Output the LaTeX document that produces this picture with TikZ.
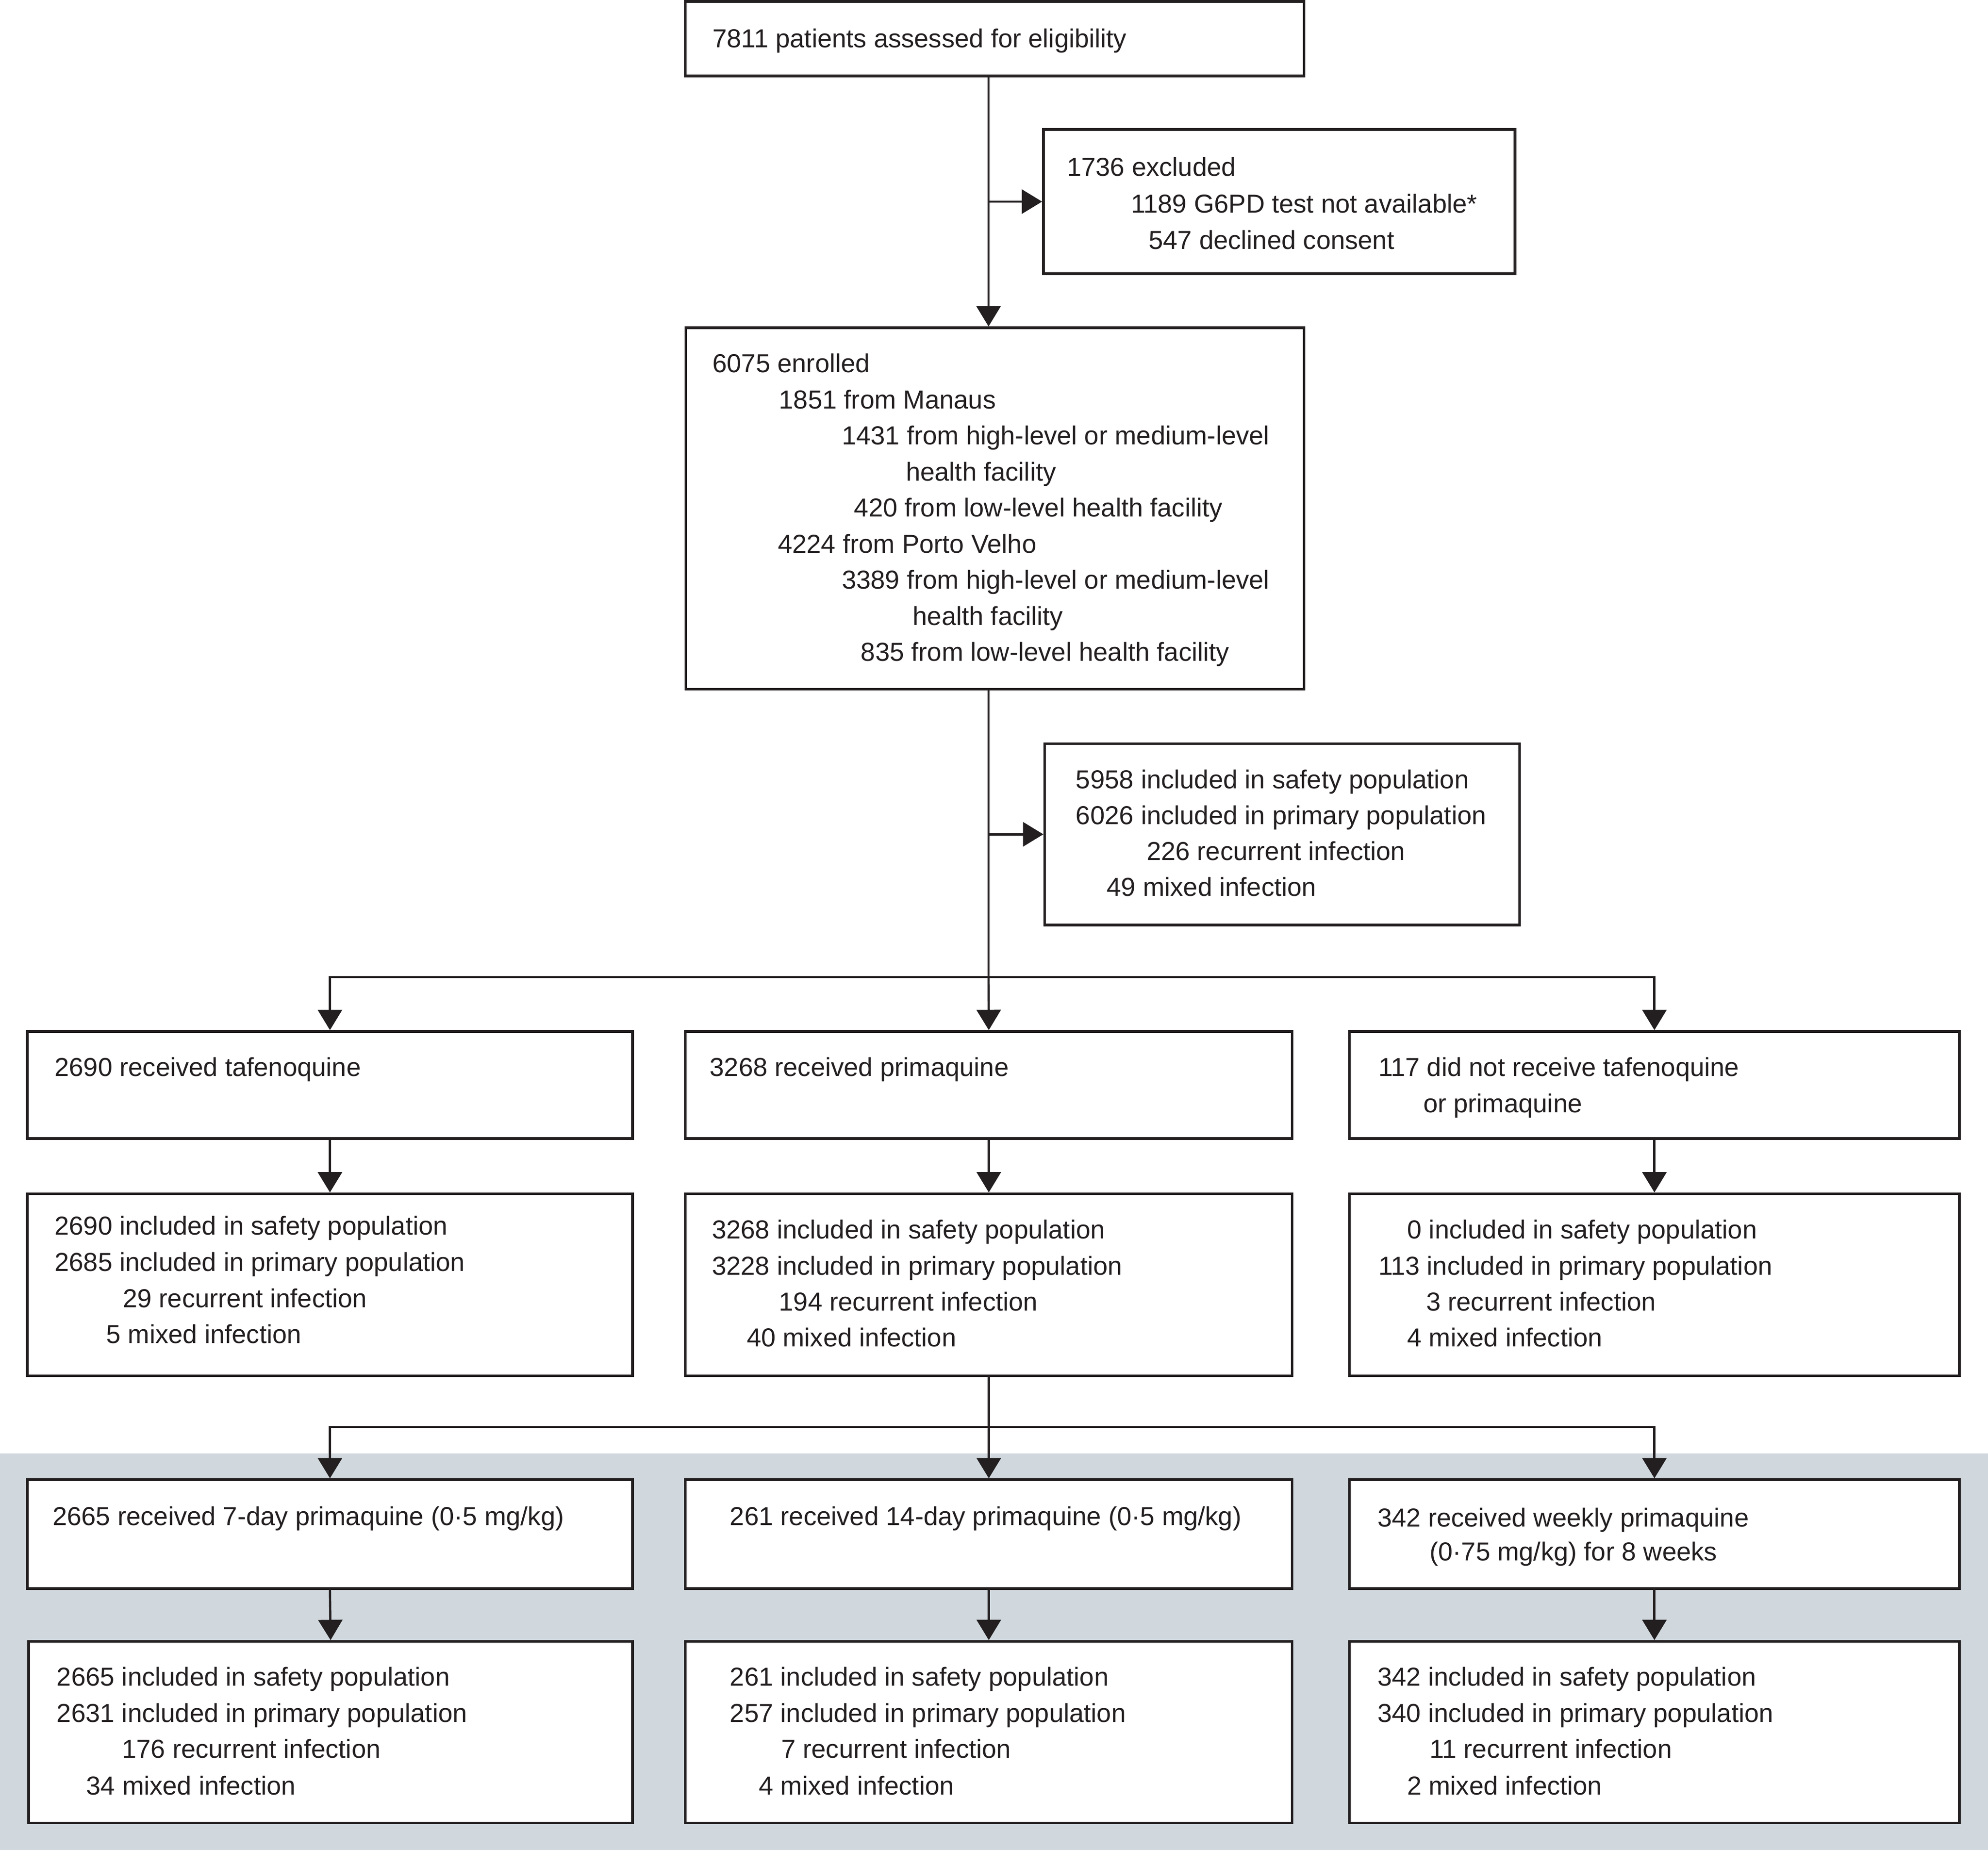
\documentclass[tikz,border=0pt]{standalone}
\usepackage{fontspec}
\setmainfont{Liberation Sans}
\usetikzlibrary{arrows.meta}
\definecolor{ink}{RGB}{35,31,32}
\definecolor{bandgray}{RGB}{208,216,222}
\newcommand\mkbox[5]{\node[flowbox, minimum width={(#4-#2)*0.01cm}, minimum height={(#5-#3)*0.01cm}] (#1) at ({(#2+#4)/2},{(#3+#5)/2}) {};}
\newcommand\txtline[4]{\node[txt] (#1) at (#2,#3) {#4};}
\begin{document}
\begin{tikzpicture}[x=0.01cm,y=-0.01cm,
  flowbox/.style={draw=ink, fill=white, line width=0.6pt, inner sep=0pt},
  txt/.style={anchor=base west, inner sep=0pt, outer sep=0pt, text=ink, font=\fontsize{5.83pt}{7pt}\selectfont},
  conn/.style={draw=ink, line width=0.5pt},
  arr/.style={conn, -{Triangle[length=1.6mm,width=1.9mm]}}]
\useasboundingbox (0,0) rectangle (1568,1459);
\fill[bandgray] (0,1146.3) rectangle (1568,1459);
% boxes
\mkbox{top}{540.5}{1.2}{1028.5}{59.8}
\mkbox{excl}{823}{102}{1195}{216}
\mkbox{enrol}{541}{258.5}{1028.5}{543.5}
\mkbox{safety}{824}{586.5}{1198.5}{729.5}
\mkbox{rfl}{21.5}{813.5}{499}{898}
\mkbox{rfm}{540.6}{813.5}{1019.2}{898}
\mkbox{rfr}{1064.3}{813.5}{1545.5}{898}
\mkbox{rsl}{21.5}{941.5}{499}{1085}
\mkbox{rsm}{540.6}{941.5}{1019.2}{1085}
\mkbox{rsr}{1064.3}{941.5}{1545.5}{1085}
\mkbox{rtl}{21.5}{1167}{499}{1253}
\mkbox{rtm}{540.6}{1167}{1019.2}{1253}
\mkbox{rtr}{1064.3}{1167}{1545.5}{1253}
\mkbox{rul}{22.5}{1294.6}{499}{1437.8}
\mkbox{rum}{540.6}{1294.6}{1019.2}{1437.8}
\mkbox{rur}{1064.3}{1294.6}{1545.5}{1437.8}
% connectors
\coordinate (trunk) at (779.7,0);
\coordinate (sa) at (779.7,770.6);
\coordinate (sb) at (779.7,1125.6);
\draw[arr] (top.south -| trunk) -- (enrol.north -| trunk);
\draw[arr] (excl.west -| trunk) -- (excl.west);
\draw[conn] (enrol.south -| trunk) -- (sa);
\draw[arr] (safety.west -| trunk) -- (safety.west);
\draw[arr] (sa) -| (rfl.north);
\draw[arr] (sa) -| (rfr.north);
\draw[arr] (sa) -- (rfm.north);
\draw[arr] (rfl.south) -- (rsl.north);
\draw[arr] (rfm.south) -- (rsm.north);
\draw[arr] (rfr.south) -- (rsr.north);
\draw[conn] (rsm.south) -- (rsm.south |- sb);
\draw[arr] (rsm.south |- sb) -| (rtl.north);
\draw[arr] (rsm.south |- sb) -| (rtr.north);
\draw[arr] (rsm.south |- sb) -- (rtm.north);
\draw[arr] (rtl.south) -- (rul.north);
\draw[arr] (rtm.south) -- (rum.north);
\draw[arr] (rtr.south) -- (rur.north);
% texts
\txtline{ta}{562}{37.5}{7811 patients assessed for eligibility}
\txtline{ea}{841.5}{139}{1736 excluded}
\txtline{eb}{892}{167.8}{1189 G6PD test not available*}
\txtline{ec}{906}{196.5}{547 declined consent}
\txtline{na}{562}{293.7}{6075 enrolled}
\txtline{nb}{614.5}{322.2}{1851 from Manaus}
\txtline{nc}{664}{350.6}{1431 from high-level or medium-level}
\txtline{nd}{714.5}{379.1}{health facility}
\txtline{ne}{673.7}{407.6}{420 from low-level health facility}
\txtline{nf}{613.5}{436.0}{4224 from Porto Velho}
\txtline{ng}{664}{464.5}{3389 from high-level or medium-level}
\txtline{nh}{720}{493.0}{health facility}
\txtline{ni}{679}{521.5}{835 from low-level health facility}
\txtline{sa1}{848.6}{622}{5958 included in safety population}
\txtline{sa2}{848.6}{650.3}{6026 included in primary population}
\txtline{sa3}{904.4}{678.5}{226 recurrent infection}
\txtline{sa4}{873}{706.8}{49 mixed infection}
\txtline{fl1}{43.1}{848.8}{2690 received tafenoquine}
\txtline{fm1}{559.8}{848.8}{3268 received primaquine}
\txtline{fr1}{1087.2}{848.8}{117 did not receive tafenoquine}
\txtline{fr2}{1122.6}{877.5}{or primaquine}
\txtline{sl1}{43.1}{974}{2690 included in safety population}
\txtline{sl2}{43.1}{1002.4}{2685 included in primary population}
\txtline{sl3}{96.9}{1031}{29 recurrent infection}
\txtline{sl4}{83.9}{1059.3}{5 mixed infection}
\txtline{sm1}{561.5}{977}{3268 included in safety population}
\txtline{sm2}{561.5}{1005.6}{3228 included in primary population}
\txtline{sm3}{614.5}{1033.7}{194 recurrent infection}
\txtline{sm4}{589}{1062}{40 mixed infection}
\txtline{sr1}{1110}{977}{0 included in safety population}
\txtline{sr2}{1087.2}{1005.6}{113 included in primary population}
\txtline{sr3}{1124.9}{1033.7}{3 recurrent infection}
\txtline{sr4}{1110}{1062}{4 mixed infection}
\txtline{tl1}{41.5}{1203}{2665 received 7-day primaquine (0·5 mg/kg)}
\txtline{tm1}{575.8}{1203}{261 received 14-day primaquine (0·5 mg/kg)}
\txtline{tr1}{1086.5}{1204}{342 received weekly primaquine}
\txtline{tr2}{1127.6}{1231}{(0·75 mg/kg) for 8 weeks}
\txtline{ul1}{44.8}{1329.7}{2665 included in safety population}
\txtline{ul2}{44.8}{1358.3}{2631 included in primary population}
\txtline{ul3}{96.2}{1386.7}{176 recurrent infection}
\txtline{ul4}{68}{1415.5}{34 mixed infection}
\txtline{um1}{575.8}{1329.7}{261 included in safety population}
\txtline{um2}{575.8}{1358.3}{257 included in primary population}
\txtline{um3}{616.2}{1386.7}{7 recurrent infection}
\txtline{um4}{598.6}{1415.5}{4 mixed infection}
\txtline{ur1}{1086.5}{1329.7}{342 included in safety population}
\txtline{ur2}{1086.5}{1358.3}{340 included in primary population}
\txtline{ur3}{1127.6}{1386.7}{11 recurrent infection}
\txtline{ur4}{1109.8}{1415.5}{2 mixed infection}
\end{tikzpicture}
\end{document}
